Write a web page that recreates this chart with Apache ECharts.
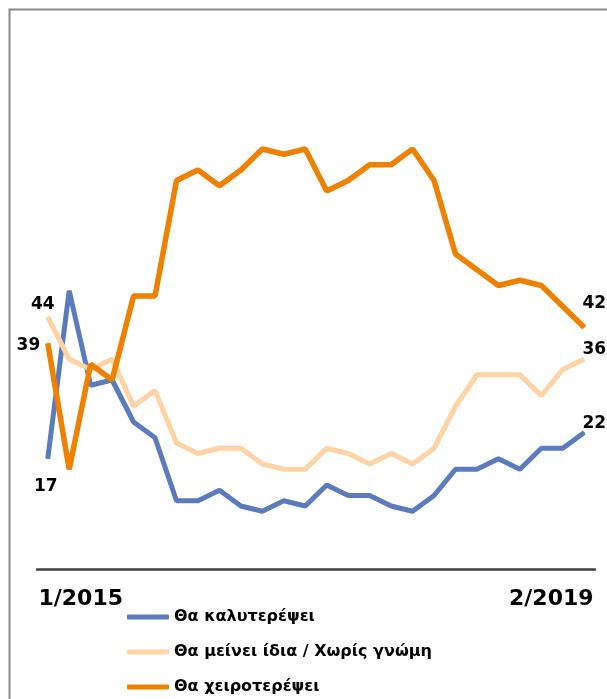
<!DOCTYPE html>
<html>
<head>
<meta charset="utf-8">
<script src="https://cdn.jsdelivr.net/npm/echarts@6/dist/echarts.min.js"></script>
<style>
    html, body { margin: 0; padding: 0; background: #fff; }
    #chart1 { width: 607px; height: 699px; }
</style>
</head>
<body>
<div id="chart1"></div>
<script>
var xLabels = ['1/2015', '', '', '', '', '', '', '', '', '', '', '', '', '', '', '', '', '', '', '', '', '', '', '', '', '2/2019'];
var seriesNames = ['Θα καλυτερέψει', 'Θα μείνει ίδια / Χωρίς γνώμη', 'Θα χειροτερέψει'];
var better = [17, 49, 31, 32, 24, 21, 9, 9, 11, 8, 7, 9, 8, 12, 10, 10, 8, 7, 10, 15, 15, 17, 15, 19, 19, 22];
var same = [44, 36, 34, 36, 27, 30, 20, 18, 19, 19, 16, 15, 15, 19, 18, 16, 18, 16, 19, 27, 33, 33, 33, 29, 34, 36];
var worse = [39, 15, 35, 32, 48, 48, 70, 72, 69, 72, 76, 75, 76, 68, 70, 73, 73, 76, 70, 56, 53, 50, 51, 50, 46, 42];
var colors = ['#5b7bbf', '#ffd3a4', '#f08000'];

chart1();

function withEndLabels(values, firstLabel, lastLabel) {
    var last = values.length - 1;
    return values.map(function (v, i) {
        var item = { value: v };
        if (i === 0) item.label = firstLabel;
        else if (i === last) item.label = lastLabel;
        return item;
    });
}

function chart1() {
    var myChart = echarts.init(document.getElementById('chart1'));
    var labelBase = {
        show: true,
        formatter: '{c}',
        fontFamily: 'DejaVu Sans',
        fontWeight: 'bold',
        fontSize: 17,
        color: '#000'
    };
    function lbl(extra) {
        return Object.assign({}, labelBase, extra);
    }
    var dataSets = [
        withEndLabels(better,
            lbl({ position: 'bottom', offset: [-2, 14] }),
            lbl({ position: 'top', offset: [10, 5] })),
        withEndLabels(same,
            lbl({ position: 'top', offset: [-5, 2] }),
            lbl({ position: 'top', offset: [10, 5] })),
        withEndLabels(worse,
            lbl({ position: 'left', offset: [-2, 2] }),
            lbl({ position: 'top', offset: [10, -10] }))
    ];
    var option = {
        animation: false,
        color: colors,
        grid: {
            left: 37,
            right: 12,
            top: 128,
            bottom: 130
        },
        legend: {
            orient: 'vertical',
            left: 127,
            top: 608,
            padding: 0,
            itemWidth: 42,
            itemHeight: 5,
            itemGap: 17,
            icon: 'roundRect',
            textStyle: {
                fontFamily: 'DejaVu Sans',
                fontWeight: 'bold',
                fontSize: 16,
                lineHeight: 18,
                color: '#000'
            },
            data: seriesNames
        },
        xAxis: {
            type: 'category',
            boundaryGap: true,
            data: xLabels,
            axisLine: {
                onZero: false,
                lineStyle: { color: '#404040', width: 2.5 }
            },
            axisTick: { show: false },
            splitLine: { show: false },
            axisLabel: {
                interval: 0,
                margin: 19,
                formatter: function (v, i) {
                    if (!v) return '';
                    return i === 0 ? '{first|' + v + '}' : '{last|' + v + '}';
                },
                rich: {
                    first: {
                        fontFamily: 'DejaVu Sans', fontWeight: 'bold', fontSize: 22,
                        color: '#000', padding: [0, 0, 0, 66]
                    },
                    last: {
                        fontFamily: 'DejaVu Sans', fontWeight: 'bold', fontSize: 22,
                        color: '#000', padding: [0, 66, 0, 0]
                    }
                }
            }
        },
        yAxis: {
            type: 'value',
            min: -4,
            max: 80,
            show: false
        },
        graphic: [{
            type: 'polyline',
            silent: true,
            shape: { points: [[9.5, 699], [9.5, 9.5], [607, 9.5]] },
            style: { fill: null, stroke: '#8a8a8a', lineWidth: 2 }
        }],
        series: seriesNames.map(function (name, k) {
            return {
                name: name,
                type: 'line',
                data: dataSets[k],
                showSymbol: true,
                showAllSymbol: true,
                symbol: 'circle',
                symbolSize: 1,
                lineStyle: { width: k === 2 ? 5.5 : 5, color: colors[k] },
                itemStyle: { color: colors[k] },
                label: { show: false }
            };
        })
    };
    myChart.setOption(option);
}
</script>
</body>
</html>
